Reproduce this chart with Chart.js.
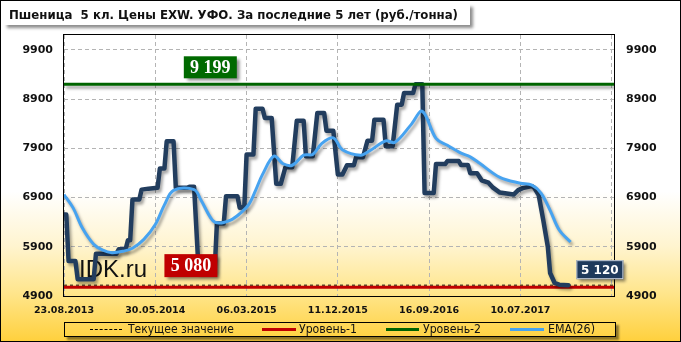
<!DOCTYPE html>
<html>
<head>
<meta charset="utf-8">
<script src="https://cdn.jsdelivr.net/npm/chart.js@4"></script>
<style>
  body { margin: 0; }
  #wrap {
    position: relative; width: 681px; height: 342px; overflow: hidden;
    background: linear-gradient(to bottom, #fff 0%, #fff 56%, #fff4cf 72%, #ffe58a 86%, #ffd03c 100%);
  }
  #frame { position: absolute; left: 0; top: 0; width: 681px; height: 342px; border: 1px solid #000; box-sizing: border-box; pointer-events: none; }
  #title {
    position: absolute; left: 4px; top: 4px; width: 466px; height: 21px; background: #fff;
    box-shadow: 3px 3px 3px rgba(0,0,0,0.45);
  }
  .fit { position: absolute; white-space: pre; transform-origin: left center; color: #111; }
  #title .fit { left: 5px; top: 3px; font: bold 13px "Liberation Sans Narrow", "DejaVu Sans Condensed", "Liberation Sans", sans-serif; }
  #legend {
    position: absolute; left: 64px; top: 322px; width: 552px; height: 15px; border: 1px solid #000;
    box-sizing: border-box; box-shadow: 3px 3px 2px rgba(0,0,0,0.45);
  }
  #legend .fit { top: 0px; font: 12px "Liberation Sans Narrow", "DejaVu Sans Condensed", "Liberation Sans", sans-serif; line-height: 13px; }
  .swatch { position: absolute; top: 6px; height: 0; }
</style>
</head>
<body>
<div id="wrap">
  <canvas id="chart" width="681" height="342"></canvas>
  <div id="title"><span class="fit" data-w="449">Пшеница  5 кл. Цены EXW. УФО. За последние 5 лет (руб./тонна)</span></div>
  <div id="legend">
    <div class="swatch" style="left:25px;width:32px;border-top:1px dashed #000;"></div>
    <span class="fit" data-w="106" style="left:63px">Текущее значение</span>
    <div class="swatch" style="left:197px;width:34px;border-top:3px solid #c00000;top:5px"></div>
    <span class="fit" data-w="58" style="left:234px">Уровень-1</span>
    <div class="swatch" style="left:321px;width:33px;border-top:3px solid #006400;top:5px"></div>
    <span class="fit" data-w="58" style="left:358px">Уровень-2</span>
    <div class="swatch" style="left:445px;width:34px;border-top:3px solid #47a3f0;top:5px"></div>
    <span class="fit" data-w="47" style="left:483px">EMA(26)</span>
  </div>
  <div id="frame"></div>
</div>
<script>
// Axis ticks (x = week number from 23.08.2013)
const xTickIdx = [0, 40, 80, 120, 160, 200, 240];
const xTickLabels = ["23.08.2013", "30.05.2014", "06.03.2015", "11.12.2015", "16.09.2016", "10.07.2017", ""];
const yTicks = [4900, 5900, 6900, 7900, 8900, 9900];

// Price, руб./тонна
const priceWeeks = [0, 1, 2, 5, 6, 13, 14, 23, 24, 27, 28, 29, 30, 33, 34, 37, 41, 42, 44, 45, 48, 49, 54, 55, 57, 59, 66, 67, 70, 71, 76, 77, 79, 80, 83, 84, 87, 88, 91, 93, 95, 97, 100, 102, 105, 106, 109, 111, 114, 115, 118, 120, 122, 124, 127, 128, 131, 133, 135, 136, 140, 141, 144, 146, 148, 149, 153, 154, 157, 158, 162, 163, 167, 168, 173, 174, 177, 178, 181, 183, 186, 188, 191, 197, 199, 201, 205, 206, 208, 210, 212, 213, 215, 217, 221];
const priceValues = [6555, 6555, 5610, 5610, 5240, 5240, 5760, 5760, 5850, 5850, 6030, 6030, 6860, 6860, 7060, 7080, 7096, 7490, 7490, 8040, 8040, 7096, 7096, 7120, 7120, 5400, 5400, 6373, 6373, 6927, 6927, 6690, 6700, 7772, 7772, 8704, 8704, 8515, 8515, 7177, 7177, 7515, 7515, 8461, 8461, 7738, 7738, 8616, 8616, 8258, 8258, 7366, 7366, 7555, 7555, 7718, 7718, 8055, 8055, 8481, 8481, 7941, 7941, 8785, 8785, 9022, 9022, 9199, 9199, 6990, 6990, 7580, 7580, 7640, 7640, 7560, 7560, 7395, 7395, 7250, 7200, 7100, 7000, 6960, 7050, 7090, 7131, 7100, 6950, 6441, 5900, 5366, 5164, 5130, 5120];

// EMA(26)
const emaWeeks = [0, 4, 8, 13, 17, 21, 26, 30, 35, 40, 44, 48, 57, 60, 65, 68, 73, 77, 81, 84, 87, 92, 96, 100, 105, 109, 113, 118, 122, 130, 134, 141, 145, 152, 157, 163, 168, 174, 178, 182, 191, 200, 205, 209, 213, 217, 222];
const emaValues = [6960, 6690, 6285, 5950, 5830, 5780, 5810, 5870, 6050, 6350, 6750, 7045, 7060, 6850, 6440, 6380, 6440, 6570, 6760, 7050, 7370, 7740, 7585, 7555, 7760, 7775, 8000, 8110, 7870, 7760, 7850, 8050, 8020, 8375, 8650, 8100, 7960, 7800, 7725, 7600, 7310, 7190, 7150, 6990, 6640, 6240, 5995];

const level1 = 5080;
const level2 = 9199;
const currentValue = 5120;
const xMin = 0, xMax = 241;

function pts(xs, ys) {
  return xs.map((x, i) => ({ x: x, y: ys[i] }));
}
function flat(v) {
  return [{ x: xMin, y: v }, { x: xMax, y: v }];
}

// Fit html text to measured width
document.querySelectorAll(".fit").forEach((el) => {
  const w = el.getBoundingClientRect().width;
  const target = parseFloat(el.dataset.w);
  el.style.transform = "scaleX(" + (target / w) + ")";
});

function drawBox(ctx, text, left, top, w, h, fill, font, stroke) {
  ctx.save();
  ctx.shadowColor = "rgba(0,0,0,0.45)";
  ctx.shadowBlur = 3;
  ctx.shadowOffsetX = 3;
  ctx.shadowOffsetY = 3;
  ctx.fillStyle = fill;
  ctx.fillRect(left, top, w, h);
  ctx.restore();
  ctx.save();
  if (stroke) {
    ctx.strokeStyle = stroke;
    ctx.lineWidth = 1;
    ctx.strokeRect(left + 0.5, top + 0.5, w - 1, h - 1);
  }
  ctx.fillStyle = "#fff";
  ctx.font = font;
  ctx.textAlign = "center";
  ctx.textBaseline = "middle";
  ctx.fillText(text, left + w / 2, top + h / 2 + 1);
  ctx.restore();
}

const decor = {
  id: "decor",
  beforeDatasetsDraw(chart) {
    const { ctx, chartArea: a } = chart;
    ctx.save();
    ctx.font = '24px "Liberation Sans", Arial, sans-serif';
    ctx.fillStyle = "#111";
    ctx.fillText("IDK.ru", a.left + 15, a.bottom - 19);
    ctx.strokeStyle = "#000";
    ctx.lineWidth = 1;
    ctx.strokeRect(a.left - 0.5, a.top - 0.5, a.right - a.left + 1, a.bottom - a.top + 1);
    ctx.restore();
  },
  beforeDatasetDraw(chart, args) {
    const ds = chart.data.datasets[args.index];
    const ctx = chart.ctx;
    ctx.save();
    if (ds.shadow) {
      ctx.shadowColor = "rgba(0,0,0,0.35)";
      ctx.shadowBlur = 3;
      ctx.shadowOffsetX = 2;
      ctx.shadowOffsetY = 3;
    }
  },
  afterDatasetDraw(chart) {
    chart.ctx.restore();
  },
  afterDatasetsDraw(chart) {
    const { ctx } = chart;
    const xs = chart.scales.x;
    const ys = chart.scales.y;
    const fmt = (v) => String(v).replace(/(\d)(\d{3})$/, "$1 $2");
    const serif = 'bold 18px "Liberation Serif", "Times New Roman", serif';
    let y = ys.getPixelForValue(level2);
    drawBox(ctx, fmt(level2), xs.getPixelForValue(52.5), y - 28, 53, 22, "#006a00", serif);
    y = ys.getPixelForValue(level1);
    drawBox(ctx, fmt(level1), xs.getPixelForValue(44), y - 33, 53, 23, "#c00000", serif);
    y = ys.getPixelForValue(currentValue);
    const lastX = xs.getPixelForValue(priceWeeks[priceWeeks.length - 1]);
    drawBox(ctx, fmt(currentValue), lastX + 8, y - 25, 47, 19, "#1f3a5c", 'bold 12px "DejaVu Sans", sans-serif', "#c8d0da");
  },
};

const tickFontY = { family: '"DejaVu Sans", sans-serif', size: 11, weight: "bold" };

new Chart(document.getElementById("chart"), {
  type: "line",
  data: {
    datasets: [
      { label: "EMA(26)", data: pts(emaWeeks, emaValues), borderColor: "#47a3f0", borderWidth: 3, tension: 0.35, order: 1, shadow: true },
      { label: "Уровень-2", data: flat(level2), borderColor: "#006400", borderWidth: 3, order: 0, shadow: true },
      { label: "Цена", data: pts(priceWeeks, priceValues), borderColor: "#223d5e", borderWidth: 4.5, tension: 0, order: 2, shadow: true, borderJoinStyle: "round", borderCapStyle: "round" },
      { label: "Уровень-1", data: flat(level1), borderColor: "#c00000", borderWidth: 3, order: 3 },
      { label: "Текущее значение", data: flat(currentValue), borderColor: "#000", borderWidth: 1, borderDash: [3, 3], order: 4 },
    ],
  },
  options: {
    responsive: false,
    animation: false,
    devicePixelRatio: 1,
    layout: { padding: { top: 35, left: 0, right: 0, bottom: 0 } },
    elements: { point: { radius: 0 } },
    plugins: { legend: { display: false }, tooltip: { enabled: false } },
    scales: {
      x: {
        type: "linear",
        min: xMin,
        max: xMax,
        afterBuildTicks: (s) => { s.ticks = xTickIdx.map((v) => ({ value: v })); },
        afterFit: (s) => { s.height = 46; },
        grid: { color: "#b4b4b4", lineWidth: 1, drawTicks: false },
        border: { display: false, dash: [4, 3] },
        ticks: {
          autoSkip: false,
          maxRotation: 0,
          padding: 9,
          color: "#111",
          font: { family: '"DejaVu Sans", sans-serif', size: 9.5, weight: "bold" },
          callback: (v) => xTickLabels[xTickIdx.indexOf(v)] || "",
        },
      },
      y: {
        position: "left",
        min: 4900,
        max: 10200,
        afterBuildTicks: (s) => { s.ticks = yTicks.map((v) => ({ value: v })); },
        afterFit: (s) => { s.width = 64; },
        grid: { color: "#b4b4b4", lineWidth: 1, drawTicks: false },
        border: { display: false, dash: [4, 3] },
        ticks: { padding: 11, color: "#111", font: tickFontY, callback: (v) => String(v) },
      },
      y1: {
        position: "right",
        display: true,
        min: 4900,
        max: 10200,
        afterBuildTicks: (s) => { s.ticks = yTicks.map((v) => ({ value: v })); },
        afterFit: (s) => { s.width = 67; },
        grid: { drawOnChartArea: false, drawTicks: false },
        border: { display: false },
        ticks: { padding: 12, color: "#111", font: tickFontY, callback: (v) => String(v) },
      },
    },
  },
  plugins: [decor],
});
</script>
</body>
</html>
